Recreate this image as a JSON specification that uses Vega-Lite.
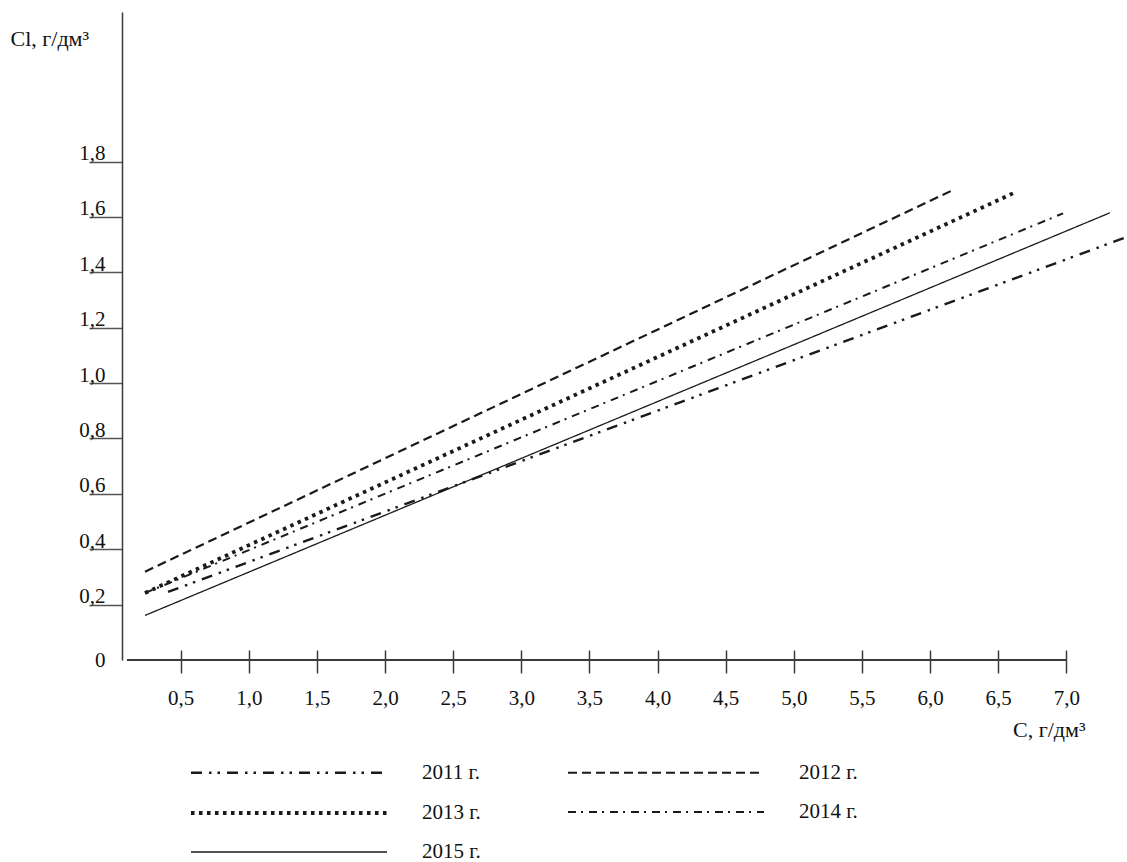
{
  "$schema": "https://vega.github.io/schema/vega-lite/v6.json",
  "width": 1005,
  "height": 648,
  "autosize": {"type": "none"},
  "padding": {"left": 122, "top": 12, "right": 0, "bottom": 202},
  "background": "white",
  "config": {"view": {"stroke": null}, "font": "Liberation Serif"},
  "data": {
    "values": [
      {"year": "2011 г.", "c": 0.407, "cl": 0.246},
      {"year": "2011 г.", "c": 7.445, "cl": 1.528},
      {"year": "2012 г.", "c": 0.238, "cl": 0.319},
      {"year": "2012 г.", "c": 6.176, "cl": 1.699},
      {"year": "2013 г.", "c": 0.238, "cl": 0.242},
      {"year": "2013 г.", "c": 6.63, "cl": 1.69},
      {"year": "2014 г.", "c": 0.238, "cl": 0.242},
      {"year": "2014 г.", "c": 6.976, "cl": 1.613},
      {"year": "2015 г.", "c": 0.238, "cl": 0.161},
      {"year": "2015 г.", "c": 7.32, "cl": 1.615}
    ]
  },
  "layer": [
    {
      "mark": {"type": "line", "strokeCap": "butt", "color": "#1a1a1a", "clip": true},
      "encoding": {
        "x": {
          "field": "c", "type": "quantitative",
          "scale": {"domain": [0.069, 7.445], "nice": false, "zero": false},
          "axis": {
            "values": [0.5, 1, 1.5, 2, 2.5, 3, 3.5, 4, 4.5, 5, 5.5, 6, 6.5, 7],
            "labelExpr": "replace(format(datum.value, '.1f'), '.', ',')",
            "domain": false,
            "offset": -10,
            "tickSize": 23, "tickColor": "#3a3a3a", "tickWidth": 1.5,
            "labelPadding": 14, "labelFont": "Liberation Serif", "labelFontSize": 21, "labelColor": "#111",
            "labelFlush": false, "labelOverlap": false,
            "grid": false,
            "title": "C, г/дм³", "titleX": 963, "titleY": 86, "titleAlign": "right", "titleAnchor": null,
            "titleBaseline": "alphabetic", "titleFont": "Liberation Serif", "titleFontSize": 22,
            "titleFontWeight": "normal", "titleColor": "#111"
          }
        },
        "y": {
          "field": "cl", "type": "quantitative",
          "scale": {"domain": [0, 2.34], "nice": false},
          "axis": {
            "values": [0, 0.2, 0.4, 0.6, 0.8, 1, 1.2, 1.4, 1.6, 1.8],
            "labelExpr": "datum.value == 0 ? '0' : replace(format(datum.value, '.1f'), '.', ',')",
            "domainColor": "#3a3a3a", "domainWidth": 1.5,
            "tickColor": "#555", "tickWidth": 1.5, "tickSize": 33,
            "tickOpacity": {"condition": {"test": "datum.value == 0", "value": 0}, "value": 1},
            "labelAlign": "right",
            "labelBaseline": {"condition": {"test": "datum.value == 0", "value": "middle"}, "value": "bottom"},
            "labelOffset": {"condition": {"test": "datum.value == 0", "value": 0}, "value": 2},
            "labelPadding": -16,
            "labelFont": "Liberation Serif", "labelFontSize": 21, "labelColor": "#111",
            "labelOverlap": false, "labelFlush": false,
            "grid": false,
            "title": "Cl, г/дм³", "titleAngle": 0, "titleX": -112, "titleY": 33,
            "titleAlign": "left", "titleAnchor": null, "titleBaseline": "alphabetic",
            "titleFont": "Liberation Serif", "titleFontSize": 22, "titleFontWeight": "normal", "titleColor": "#111"
          }
        },
        "strokeDash": {
          "field": "year", "type": "nominal",
          "scale": {
            "type": "ordinal",
            "domain": ["2011 г.", "2013 г.", "2015 г.", "2012 г.", "2014 г."],
            "range": [[11, 7, 2.5, 6, 2.5, 7], [3.5, 4.5], [1, 0], [9, 5], [8, 5, 2, 6]]
          },
          "legend": {
            "orient": "none", "legendX": 155, "legendY": 749, "columns": 2, "title": null,
            "symbolType": "M-9.8,0H9.8", "symbolSize": 400, "symbolStrokeColor": "#1a1a1a",
            "labelFont": "Liberation Serif", "labelFontSize": 21, "labelColor": "#111", "labelOffset": 121,
            "columnPadding": 82, "rowPadding": 18, "padding": 0
          }
        },
        "strokeWidth": {
          "field": "year", "type": "nominal",
          "scale": {
            "type": "ordinal",
            "domain": ["2011 г.", "2013 г.", "2015 г.", "2012 г.", "2014 г."],
            "range": [2.4, 3.8, 1.3, 2.2, 2]
          },
          "legend": {
            "orient": "none", "legendX": 155, "legendY": 749, "columns": 2, "title": null,
            "symbolType": "M-9.8,0H9.8", "symbolSize": 400, "symbolStrokeColor": "#1a1a1a",
            "labelFont": "Liberation Serif", "labelFontSize": 21, "labelColor": "#111", "labelOffset": 121,
            "columnPadding": 82, "rowPadding": 18, "padding": 0
          }
        }
      }
    },
    {
      "mark": {"type": "rule", "color": "#3a3a3a", "strokeWidth": 1.5},
      "encoding": {
        "x": {"datum": 0.106, "type": "quantitative"},
        "x2": {"datum": 7.0},
        "y": {"datum": 0, "type": "quantitative"}
      }
    }
  ]
}
